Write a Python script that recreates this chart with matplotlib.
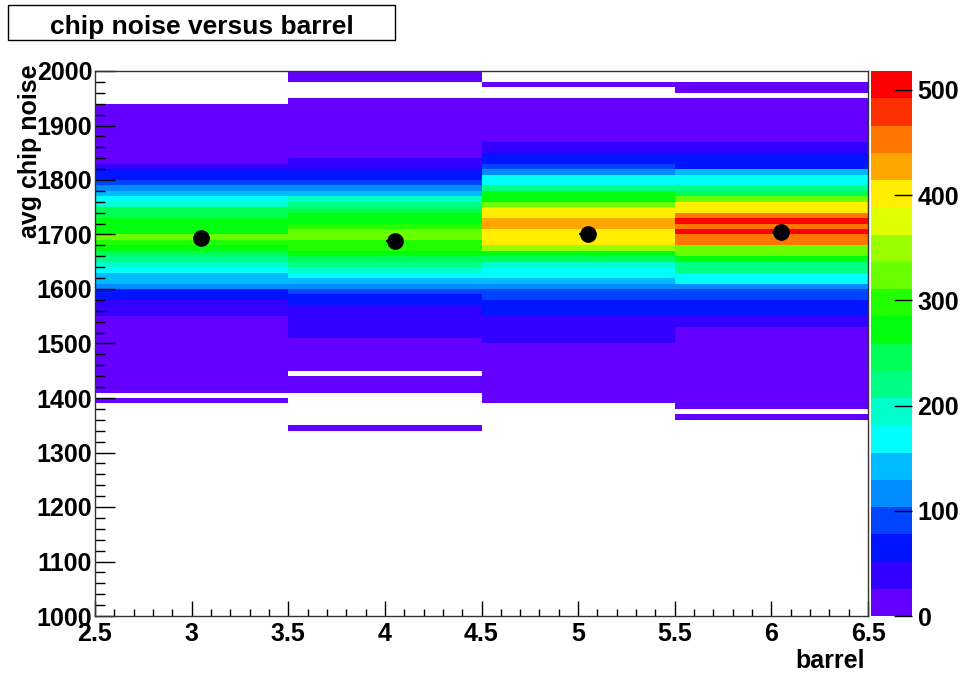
#!/usr/bin/env python3
# Chip noise versus barrel: ROOT-style COLZ 2D histogram with the
# per-barrel mean noise overlaid as black markers.

import colorsys

import matplotlib
matplotlib.use("Agg")
import matplotlib.pyplot as plt
import numpy as np
from matplotlib.colors import ListedColormap, Normalize
from matplotlib.patches import Rectangle
from matplotlib.ticker import FuncFormatter, MultipleLocator

# x bins: barrel number (one bin per barrel)
barrel_edges = [2.5, 3.5, 4.5, 5.5, 6.5]

# y bins: avg chip noise, 10 wide, listed from 1340 up to 1990
noise_first = 1340
noise_step = 10

# entries per noise bin, bottom (1340) to top (1990)
counts_b3 = [0, 0, 0, 0, 0, 5, 0,
             3, 6, 8, 10, 11, 13, 14, 15, 16,
             17, 18, 20, 22, 24,
             30, 38, 46, 58, 70,
             112, 138, 148, 168, 194, 215, 245, 268, 300, 322, 272, 268,
             262, 255, 248, 196, 170, 145, 118, 92, 62, 55,
             30, 22, 20,
             22, 20, 18, 16, 14, 12, 10, 8, 6,
             0, 0, 0, 0, 0, 0]
counts_b4 = [5, 0, 0, 0, 0, 0, 0,
             6, 9, 12, 0,
             14, 16, 18, 20, 22, 24,
             30, 34, 38, 42, 46, 50, 62, 72, 90,
             115, 145, 170, 190, 218, 245, 268, 300, 305, 330, 325, 298,
             270, 276, 250, 215, 192, 148, 116, 90, 70, 60,
             45, 35,
             24, 22, 20, 19, 18, 16, 14, 12, 10, 8, 6,
             0, 0, 0, 3, 3]
counts_b5 = [0, 0, 0, 0, 0,
             5, 8, 10, 12, 14, 16, 18,
             20, 22, 24, 25,
             30, 35, 40, 45, 50,
             60, 65, 75, 85, 95,
             110, 145, 165, 172, 205, 250, 270, 340, 395, 400, 405,
             430, 435, 405, 400, 330, 280, 262, 215, 175, 165, 120, 95,
             75, 60, 45, 32,
             24, 20, 17, 14, 11, 9, 7, 5,
             0, 0, 3, 0, 0]
counts_b6 = [0, 0, 4, 0,
             4, 6, 8, 10, 12, 13, 14, 16, 18,
             19, 20, 21, 22, 23, 25,
             35, 45, 55, 65, 75, 85, 95,
             115, 160, 170, 210, 220, 265, 320, 330, 455, 462, 505, 458,
             518, 445, 405, 400, 325, 240, 215, 170, 160, 140, 75,
             65, 55, 45, 35,
             24, 20, 17, 14, 11, 9, 7, 5,
             0, 3, 4, 0, 0]

# mean noise per barrel (black markers)
mean_barrel = [3.05, 4.05, 5.05, 6.05]
mean_noise = [1693, 1688, 1700, 1705]

FONT = 18
W, H = 964, 679


def root_pretty_cmap(ncont=20, ncolors=50):
    """ROOT SetPalette(1) colours, as picked for ncont contour levels."""
    cols = []
    for k in range(ncont):
        idx = int((k + 0.99) * ncolors / ncont)
        hue = 280.0 - (idx + 1) * 280.0 / ncolors
        cols.append(colorsys.hls_to_rgb(hue / 360.0, 0.5, 1.0))
    return ListedColormap(cols)


def px(v):
    return v * 72.0 / 100.0


def main():
    plt.rcParams["font.family"] = ["Liberation Sans", "DejaVu Sans"]
    plt.rcParams["font.weight"] = "bold"

    z = np.column_stack([counts_b3, counts_b4, counts_b5, counts_b6])
    nbins = z.shape[0]
    noise_edges = noise_first + noise_step * np.arange(nbins + 1)
    zm = np.ma.masked_less_equal(z, 0)

    fig = plt.figure(figsize=(W / 100, H / 100), dpi=100)
    ax = fig.add_axes([95 / W, 1 - 616 / H, (868 - 95) / W, (616 - 71) / H])
    cax = fig.add_axes([871 / W, 1 - 616 / H, 41 / W, (616 - 71) / H])

    mesh = ax.pcolormesh(barrel_edges, noise_edges, zm,
                         cmap=root_pretty_cmap(),
                         norm=Normalize(0, z.max()),
                         shading="flat", linewidth=0)
    ax.errorbar(mean_barrel, mean_noise, xerr=0.045, fmt="o", color="black",
                markersize=11, elinewidth=1.5, capsize=0, zorder=5)

    ax.set_xlim(2.5, 6.5)
    ax.set_ylim(1000, 2000)
    ax.xaxis.set_major_locator(MultipleLocator(0.5))
    ax.xaxis.set_minor_locator(MultipleLocator(0.1))
    ax.yaxis.set_major_locator(MultipleLocator(100))
    ax.yaxis.set_minor_locator(MultipleLocator(20))
    ax.xaxis.set_major_formatter(FuncFormatter(lambda v, _: f"{v:g}"))
    ax.tick_params(which="both", direction="in", top=False, right=False,
                   labelsize=FONT, width=1)
    ax.tick_params(axis="x", which="major", length=px(15), pad=4)
    ax.tick_params(axis="x", which="minor", length=px(7.5))
    ax.tick_params(axis="y", which="major", length=px(20), pad=2)
    ax.tick_params(axis="y", which="minor", length=px(10))
    for lab in ax.get_xticklabels() + ax.get_yticklabels():
        lab.set_fontweight("bold")
    for sp in ax.spines.values():
        sp.set_linewidth(1)
        sp.set_color("#333333")

    cb = fig.colorbar(mesh, cax=cax)
    cb.outline.set_visible(False)
    cb.set_ticks([0, 100, 200, 300, 400, 500])
    cb.minorticks_off()
    cax.tick_params(direction="in", length=px(18), width=1, pad=4,
                    labelsize=FONT)
    for lab in cax.get_yticklabels():
        lab.set_fontweight("bold")

    # axis titles, ROOT style (aligned to the axis ends)
    fig.text(30 / W, 1 - 64 / H, "avg chip noise", rotation=90,
             ha="center", va="top", fontsize=FONT, fontweight="bold")
    fig.text(865 / W, 1 - 661 / H, "barrel", ha="right", va="center",
             fontsize=FONT, fontweight="bold")

    # title box
    fig.patches.append(Rectangle((8 / W, 1 - 40 / H), 387 / W, 35 / H,
                                 transform=fig.transFigure, fill=False,
                                 edgecolor="black", linewidth=1))
    fig.text(202 / W, 1 - 27 / H, "chip noise versus barrel",
             ha="center", va="center", fontsize=19, fontweight="bold")

    fig.savefig("out.png", dpi=100)
    plt.close(fig)


if __name__ == "__main__":
    main()
